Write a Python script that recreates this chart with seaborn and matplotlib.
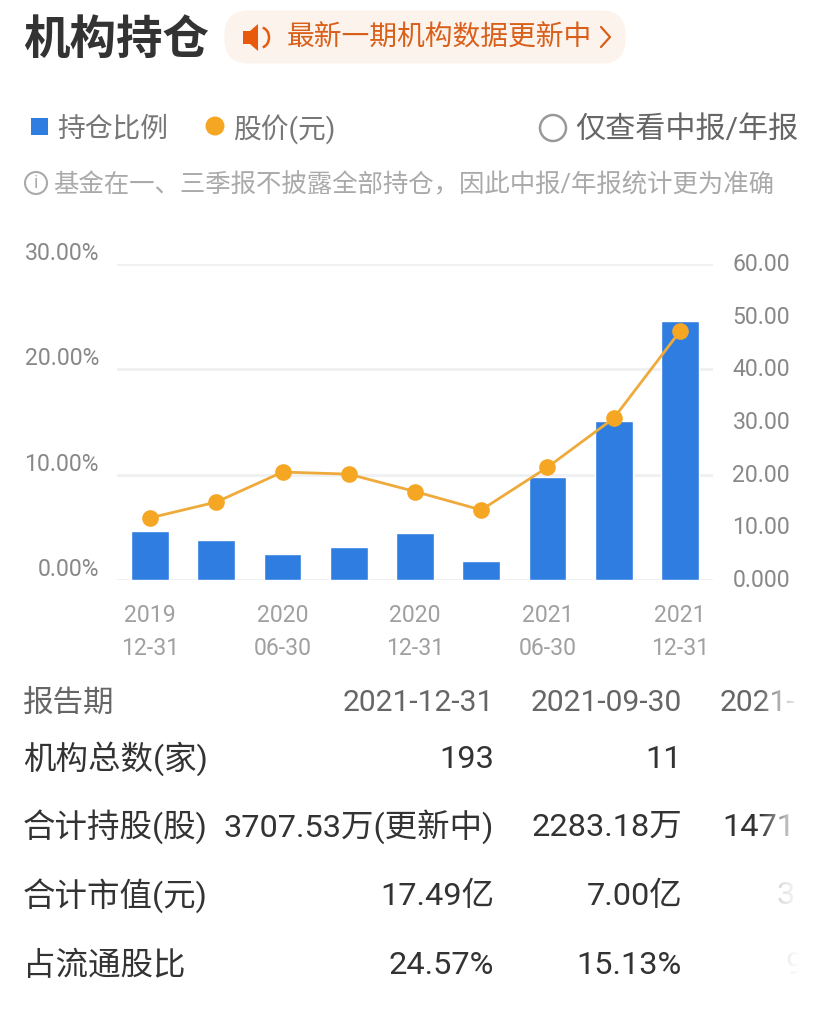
import numpy as np, pandas as pd
import matplotlib
matplotlib.use('Agg')
import matplotlib.pyplot as plt
import seaborn as sb
from matplotlib.patches import Circle, FancyBboxPatch, Polygon, Rectangle, Arc
from matplotlib.transforms import ScaledTranslation

# chart values
periods = ['2019-12-31', '2020-03-31', '2020-06-30', '2020-09-30', '2020-12-31',
           '2021-03-31', '2021-06-30', '2021-09-30', '2021-12-31']
hold_pct = [4.65, 3.83, 2.47, 3.16, 4.45, 1.80, 9.78, 15.13, 24.57]
price = [11.8, 14.8, 20.5, 20.1, 16.8, 13.3, 21.4, 30.7, 47.2]
xtick_labels = ['2019\n12-31', '', '2020\n06-30', '', '2020\n12-31', '', '2021\n06-30', '', '2021\n12-31']
left_ticks = [0, 10, 20, 30]
left_labels = ['0.00%', '10.00%', '20.00%', '30.00%']
right_ticks = [0, 10, 20, 30, 40, 50, 60]
right_labels = ['0.000', '10.00', '20.00', '30.00', '40.00', '50.00', '60.00']

# table under the chart
row_names = ['报告期', '机构总数(家)', '合计持股(股)', '合计市值(元)', '占流通股比']
col_latest = ['2021-12-31', '193', '3707.53万(更新中)', '17.49亿', '24.57%']
col_prev = ['2021-09-30', '11', '2283.18万', '7.00亿', '15.13%']

W, H = 831, 1018
BLUE = '#2f7de1'
ORANGE = '#f5a623'

sb.set_theme(style='white')
plt.rcParams['font.family'] = ['Roboto', 'Noto Sans CJK SC', 'DejaVu Sans']

df = pd.DataFrame({'period': periods, 'hold': hold_pct, 'price': price})

fig = plt.figure(figsize=(W / 100, H / 100), dpi=100)
ax = fig.add_axes([117 / W, 1 - 580 / H, (713 - 117) / W, (580 - 264) / H])

sb.barplot(data=df, x='period', y='hold', color=BLUE, saturation=1, width=0.57, ax=ax, zorder=3)
ax.set_ylim(0, 30)
ax.set_yticks(left_ticks)
ax.set_yticklabels(left_labels, fontsize=16.6, color='#888888')
ax.set_xticks(range(len(periods)))
ax.set_xticklabels(xtick_labels, fontsize=16.6, color='#a0a0a0', linespacing=1.6)
ax.tick_params(axis='x', length=0, pad=17)
ax.tick_params(axis='y', length=0, pad=13)
ax.set_xlabel('')
ax.set_ylabel('')
ax.grid(axis='y', color='#eef0f2', lw=2)
ax.set_axisbelow(True)
sb.despine(ax=ax, left=True, bottom=True)
# left labels sit above their grid line
for lab in ax.get_yticklabels():
    lab.set_transform(lab.get_transform() + ScaledTranslation(0, 13 / 100, fig.dpi_scale_trans))

ax2 = ax.twinx()
sb.lineplot(data=df, x='period', y='price', sort=False, color='#eeaa3a', lw=2, marker='o',
            markersize=12, markerfacecolor=ORANGE, markeredgewidth=0, ax=ax2, zorder=5)
ax2.set_ylim(0, 60)
ax2.set_yticks(right_ticks)
ax2.set_yticklabels(right_labels, fontsize=16.6, color='#888888')
ax2.tick_params(axis='y', length=0, pad=14)
ax2.set_ylabel('')
ax2.set_xlabel('')
sb.despine(ax=ax2, left=True, right=True, bottom=True)
for lab in ax2.get_yticklabels():
    lab.set_transform(lab.get_transform() + ScaledTranslation(0, 2 / 100, fig.dpi_scale_trans))
ax.set_xlim(-0.5, 8.5)

# everything around the chart, in pixel coordinates
ov = fig.add_axes([0, 0, 1, 1], zorder=10)
ov.set_xlim(0, W)
ov.set_ylim(H, 0)
ov.axis('off')
ov.patch.set_alpha(0)

ov.text(23, 41, '机构持仓', fontsize=33.5, fontweight='bold', color='#333333', va='center')
ov.add_patch(FancyBboxPatch((230, 16), 390, 42, boxstyle='round,pad=0,rounding_size=18',
                            fc='#fdf3ed', ec='#fdf3ed', lw=8))
# speaker icon
ov.add_patch(Polygon([(243, 31), (250, 31), (258, 24), (258, 51), (250, 44), (243, 44)], fc='#e8590c', ec='none'))
ov.add_patch(Arc((261, 37.5), 16, 20, theta1=-80, theta2=80, ec='#e8590c', lw=1.8))
ov.text(287, 38, '最新一期机构数据更新中', fontsize=20, color='#d9601a', va='center')
ov.plot([601, 610, 601], [27, 37, 47], color='#d9601a', lw=1.6)

# legend row
ov.add_patch(Rectangle((31, 118), 17, 17, fc=BLUE, ec='none'))
ov.text(57, 129, '持仓比例', fontsize=20, color='#777777', va='center')
ov.add_patch(Circle((215, 126), 9.5, fc=ORANGE, ec='none'))
ov.text(233, 129, '股价(元)', fontsize=20, color='#777777', va='center')
ov.add_patch(Circle((553, 128), 13, fc='white', ec='#999999', lw=1.8))
ov.text(575, 130, '仅查看中报/年报', fontsize=21.7, color='#666666', va='center')

# note
ov.add_patch(Circle((36, 183), 11, fc='white', ec='#aaaaaa', lw=1.5))
ov.text(36, 183, 'i', fontsize=13, color='#aaaaaa', ha='center', va='center')
ov.text(53, 185, '基金在一、三季报不披露全部持仓，因此中报/年报统计更为准确', fontsize=18.3,
        color='#aaaaaa', va='center')

# table
row_y = [703, 759, 827, 896, 966]
ov.text(23, row_y[0], row_names[0], fontsize=22, color='#666666', va='center')
ov.text(494, row_y[0], col_latest[0], fontsize=21.6, color='#666666', va='center', ha='right')
ov.text(682, row_y[0], col_prev[0], fontsize=21.6, color='#666666', va='center', ha='right')
for i in range(1, len(row_y)):
    y = row_y[i]
    ov.text(23, y, row_names[i], fontsize=23.4, color='#333333', va='center')
    ov.text(494, y, col_latest[i], fontsize=23.4, color='#333333', va='center', ha='right')
    ov.text(682, y, col_prev[i], fontsize=23.4, color='#333333', va='center', ha='right')

# third column runs off the right edge and fades out
ov.text(720, 703, '2021-', fontsize=21.6, color='#666666', va='center')
ov.text(722, 827, '1471', fontsize=23.4, color='#333333', va='center')
ov.text(777, 896, '3', fontsize=23.4, color='#b8b8b8', va='center')
ov.text(785, 966, '9', fontsize=23.4, color='#c8c8c8', va='center')
fade = np.ones((2, 60, 4))
fade[..., 3] = np.tile(np.linspace(0, 1, 60), (2, 1))
ov.imshow(fade, extent=(760, 800, 985, 685), aspect='auto', zorder=8)
ov.add_patch(Rectangle((800, 685), 31, 300, fc='white', ec='none', zorder=8))
ov.set_xlim(0, W)
ov.set_ylim(H, 0)

fig.savefig('out.png', dpi=100)
